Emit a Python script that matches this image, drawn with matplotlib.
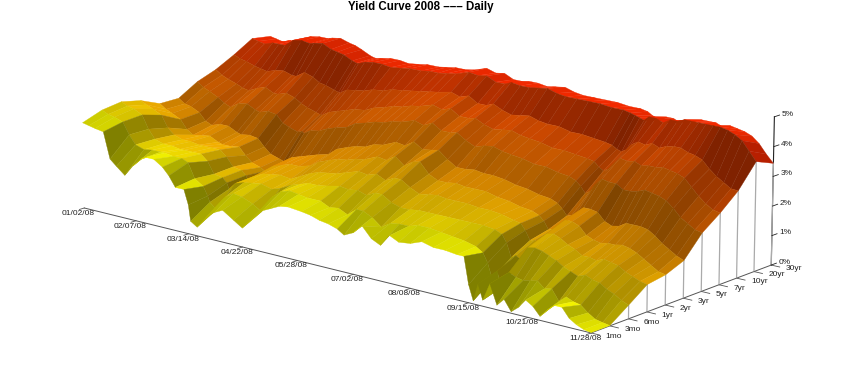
import numpy as np
import matplotlib
matplotlib.use('Agg')
import matplotlib.pyplot as plt

plt.rcParams['font.family'] = ['Liberation Sans', 'DejaVu Sans']

# trading day number of every sampled curve (0 = 01/02/08)
days = [0,3,6,10,13,16,20,24,28,30,34,38,41,44,48,50,51,54,58,62,66,71,75,80,84,88,92,96,102,106,110,114,118,121,125,129,133,137,141,145,150,155,160,165,170,173,175,177,179,181,184,187,190,193,196,199,202,205,208,211,214,217,220,223,226]

y_1mo = [3.0,2.95,2.9,2.85,1.95,1.75,1.5,1.9,2.2,2.3,2.3,2.1,1.85,1.5,1.5,1.0,0.45,0.3,0.7,0.95,1.1,0.85,0.65,1.1,1.4,1.55,1.7,1.75,1.7,1.65,1.55,1.5,1.4,1.25,1.4,1.7,1.35,1.2,1.6,1.45,1.5,1.65,1.55,1.55,1.5,1.5,0.6,0.1,0.7,0.2,0.8,0.15,0.4,0.05,0.25,0.55,0.4,0.13,0.4,0.6,0.6,0.3,0.15,0.05,0.01]
y_3mo = [3.25,3.15,3.1,3.0,2.6,2.3,2.2,2.25,2.25,2.25,2.2,2.2,2.1,1.6,1.4,1.1,0.9,0.7,1.2,1.4,1.35,1.2,1.0,1.6,1.85,1.95,1.9,1.85,1.85,1.7,1.75,1.6,1.85,1.85,1.7,1.45,1.65,1.7,1.7,1.8,1.8,1.75,1.7,1.65,1.55,1.4,1.1,0.6,0.9,0.4,0.95,0.85,0.8,0.85,0.9,0.7,0.75,0.4,0.6,0.5,0.45,0.25,0.1,0.05,0.01]
y_6mo = [3.35,3.25,3.2,3.05,2.6,2.3,2.2,2.2,2.15,2.15,2.15,2.15,1.95,1.55,1.5,1.35,1.15,1.4,1.5,1.55,1.6,1.5,1.6,1.8,1.9,2.0,2.0,2.05,2.15,2.1,2.15,2.05,2.2,2.2,2.0,1.9,1.9,1.95,1.95,1.95,1.95,1.95,1.95,1.95,1.9,1.8,1.55,1.1,1.2,1.1,1.55,1.6,1.55,1.45,1.35,1.2,1.1,1.0,1.1,1.0,0.95,0.8,0.7,0.55,0.45]
y_1yr = [3.2,3.1,3.0,2.85,2.45,2.25,2.15,2.15,2.1,2.1,2.1,2.1,1.9,1.6,1.55,1.4,1.25,1.45,1.6,1.65,1.7,1.65,1.8,2.0,2.1,2.15,2.2,2.3,2.45,2.4,2.5,2.35,2.5,2.5,2.3,2.15,2.2,2.25,2.2,2.2,2.2,2.15,2.15,2.1,2.0,1.95,1.75,1.45,1.5,1.4,1.8,1.85,1.75,1.6,1.5,1.35,1.35,1.3,1.4,1.35,1.3,1.15,1.05,0.95,0.9]
y_2yr = [2.9,2.75,2.65,2.5,2.2,2.05,2.1,2.15,2.0,1.95,1.95,2.0,1.75,1.55,1.45,1.35,1.4,1.6,1.7,1.8,1.8,1.9,2.1,2.25,2.35,2.4,2.5,2.55,2.75,2.7,2.9,2.65,2.85,2.9,2.55,2.4,2.4,2.45,2.4,2.4,2.4,2.3,2.25,2.15,2.1,2.0,1.85,1.6,1.65,1.7,2.05,2.05,1.95,1.7,1.6,1.55,1.6,1.6,1.65,1.6,1.5,1.35,1.2,1.05,1.0]
y_3yr = [2.9,2.75,2.7,2.55,2.3,2.2,2.3,2.3,2.15,2.1,2.15,2.1,1.85,1.65,1.55,1.5,1.45,1.7,1.8,1.9,2.0,2.1,2.35,2.5,2.6,2.65,2.8,2.85,3.05,3.0,3.2,3.0,3.05,3.1,2.85,2.65,2.65,2.7,2.65,2.65,2.6,2.5,2.45,2.35,2.3,2.2,2.05,1.85,1.9,2.0,2.25,2.25,2.2,1.95,1.85,1.9,2.05,2.05,2.05,2.0,1.85,1.65,1.5,1.35,1.25]
y_5yr = [3.3,3.15,3.05,2.9,2.75,2.65,2.85,2.9,2.75,2.7,2.8,2.75,2.5,2.4,2.3,2.35,2.3,2.45,2.5,2.65,2.75,2.85,3.05,3.15,3.25,3.3,3.4,3.45,3.6,3.5,3.65,3.45,3.45,3.5,3.3,3.15,3.25,3.3,3.2,3.15,3.1,3.0,3.0,2.9,2.85,2.75,2.6,2.4,2.5,2.75,3.0,2.95,2.95,2.8,2.8,2.85,2.95,2.9,2.85,2.75,2.55,2.3,2.15,2.0,1.95]
y_7yr = [3.55,3.4,3.3,3.2,3.1,3.05,3.2,3.3,3.15,3.15,3.25,3.15,3.0,2.9,2.8,2.75,2.75,2.9,3.0,3.1,3.2,3.25,3.4,3.5,3.6,3.65,3.75,3.8,3.95,3.85,3.95,3.75,3.75,3.8,3.65,3.55,3.6,3.65,3.55,3.5,3.45,3.35,3.35,3.3,3.25,3.2,3.05,2.95,3.05,3.25,3.5,3.45,3.5,3.4,3.45,3.45,3.5,3.45,3.4,3.3,3.05,2.8,2.6,2.45,2.4]
y_10yr = [3.9,3.8,3.75,3.65,3.6,3.55,3.65,3.7,3.6,3.6,3.8,3.7,3.55,3.5,3.4,3.35,3.35,3.5,3.55,3.6,3.7,3.75,3.85,3.9,3.95,4.0,4.05,4.1,4.2,4.1,4.2,4.0,4.0,4.1,3.95,3.85,3.9,3.95,3.85,3.8,3.8,3.7,3.7,3.65,3.6,3.55,3.45,3.4,3.5,3.7,3.85,3.8,3.9,3.8,3.9,3.95,3.95,3.85,3.8,3.7,3.45,3.25,3.1,2.95,2.93]
y_20yr = [4.3,4.25,4.2,4.3,4.3,4.3,4.55,4.6,4.55,4.6,4.65,4.5,4.45,4.4,4.25,4.2,4.2,4.3,4.35,4.35,4.3,4.35,4.4,4.4,4.45,4.45,4.5,4.55,4.7,4.65,4.7,4.55,4.55,4.65,4.6,4.6,4.65,4.7,4.6,4.55,4.55,4.55,4.55,4.5,4.5,4.45,4.4,4.35,4.3,4.45,4.45,4.35,4.5,4.5,4.6,4.6,4.6,4.6,4.6,4.6,4.55,4.45,4.3,4.0,3.7]
y_30yr = [4.2,4.15,4.1,4.2,4.25,4.25,4.5,4.55,4.55,4.6,4.65,4.55,4.5,4.4,4.25,4.2,4.2,4.25,4.3,4.3,4.25,4.3,4.35,4.35,4.4,4.45,4.45,4.5,4.65,4.55,4.6,4.45,4.45,4.5,4.5,4.45,4.5,4.55,4.45,4.4,4.4,4.4,4.4,4.35,4.35,4.3,4.2,4.15,4.1,4.25,4.25,4.15,4.25,4.3,4.4,4.4,4.4,4.3,4.4,4.35,4.3,4.2,4.0,3.7,3.44]

maturities = ['1mo','3mo','6mo','1yr','2yr','3yr','5yr','7yr','10yr','20yr','30yr']
date_ticks = [0,25,50,75,100,125,150,175,200,226]
date_labels = ['01/02/08','02/07/08','03/14/08','04/22/08','05/28/08','07/02/08','08/08/08','09/15/08','10/21/08','11/28/08']
pct_ticks = [0,1,2,3,4,5]

Z = np.array([y_1mo,y_3mo,y_6mo,y_1yr,y_2yr,y_3yr,y_5yr,y_7yr,y_10yr,y_20yr,y_30yr])
x = np.array(days, dtype=float)
y = np.arange(len(maturities), dtype=float)
X, Y = np.meshgrid(x, y)

xmax, ymax, zmax = x[-1], y[-1], 5.0
box = (2.38, 1.04, 0.545)

# shade each face by hand, normals worked out in box units
sx, sy, sz = box[0]/xmax, box[1]/ymax, box[2]/zmax
dzdx = (Z[:,1:] - Z[:,:-1])*sz / (np.diff(x)*sx)
dzdy = (Z[1:,:] - Z[:-1,:])*sz / (np.diff(y)[:,None]*sy)
dzdx = np.hstack([dzdx, dzdx[:,-1:]])
dzdy = np.vstack([dzdy, dzdy[-1:]])
norm = np.sqrt(dzdx**2 + dzdy**2 + 1)
light = np.array([-0.15, 0.42, 0.85])
light = light/np.linalg.norm(light)
lit = (-dzdx*light[0] - dzdy*light[1] + light[2])/norm
bright = np.clip(0.32 + 0.68*lit, 0.5, 0.95)

green = 1.0 - 0.92*Y/ymax
colors = np.dstack([bright, green*bright, np.zeros_like(Z), np.ones_like(Z)])

fig = plt.figure(figsize=(8.54,3.84), dpi=100)
# square axes wider than the figure's height so nothing gets clipped
ax = fig.add_axes([-0.0211,-0.568,1,2.224], projection='3d', computed_zorder=False)
ax.set_proj_type('persp', focal_length=1.0)
ax.view_init(elev=15.5, azim=-50)
ax.set_box_aspect(box, zoom=0.835)
ax.set_axis_off()
ax.set_xlim(0, xmax); ax.set_ylim(0, ymax); ax.set_zlim(0, zmax)

axc = '#555555'
ax.plot([0,xmax],[0,0],[0,0], color=axc, lw=0.7, zorder=1)
ax.plot([xmax,xmax],[0,ymax],[0,0], color=axc, lw=0.7, zorder=1)
ax.plot([xmax,xmax],[ymax,ymax],[0,zmax], color='#222222', lw=0.8, zorder=1)

# drop lines under the last curve
for j in range(len(y)):
    ax.plot([xmax,xmax],[y[j],y[j]],[0,Z[j,-1]], color='#aaaaaa', lw=0.9, zorder=1)

ax.plot_surface(X, Y, Z, facecolors=colors, rstride=1, cstride=1, shade=False, linewidth=0.25, antialiased=True, zorder=2)

for d, lab in zip(date_ticks, date_labels):
    ax.plot([d,d],[0,-0.25],[0,0], color=axc, lw=0.6, zorder=1)
    ax.text(d, -0.3, 0, lab, fontsize=6, ha='center', va='top', color='#222222', zorder=3)
for j, lab in enumerate(maturities):
    ax.plot([xmax,xmax+3.5],[j,j],[0,0], color=axc, lw=0.6, zorder=1)
    ax.text(xmax+6, j, 0, lab, fontsize=6, ha='left', va='center', color='#222222', zorder=3)
for p in pct_ticks:
    ax.plot([xmax,xmax],[ymax,ymax+0.3],[p,p], color='#222222', lw=0.6, zorder=1)
    ax.text(xmax, ymax+0.42, p, '%d%%' % p, fontsize=6, ha='left', va='center', color='#222222', zorder=3)

fig.text(0.4925, 0.998, 'Yield Curve 2008 \u2013\u2013\u2013 Daily', fontsize=8.3, fontweight='bold', ha='center', va='top')
fig.savefig('out.png', dpi=100)
